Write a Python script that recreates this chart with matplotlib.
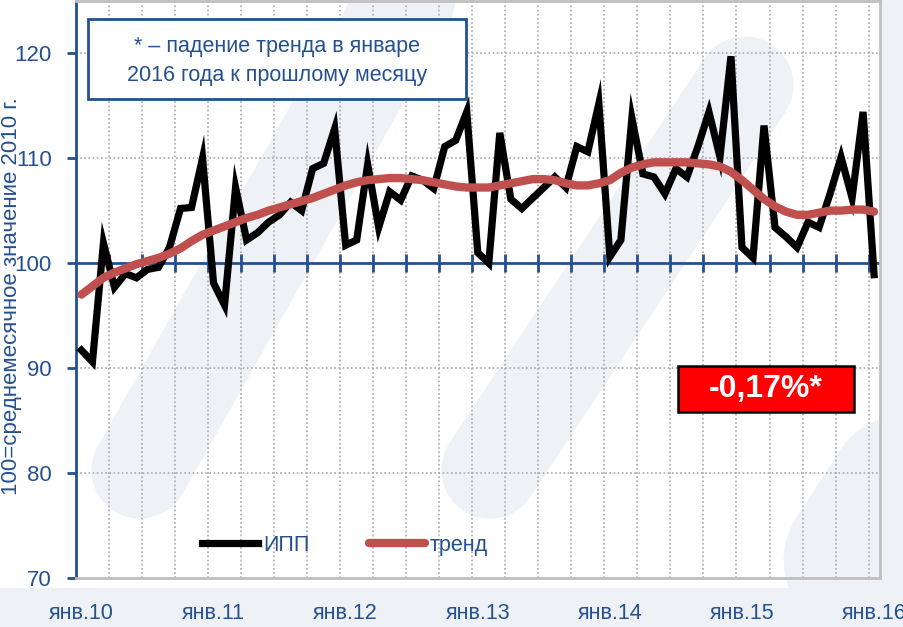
import numpy as np
import matplotlib.pyplot as plt
from matplotlib.patches import Rectangle
from matplotlib.lines import Line2D

# ИПП, 100 = среднемесячное значение 2010 г., янв.2010 - янв.2016
ipp = [91.7, 90.6, 101.9, 97.7, 99.0, 98.6, 99.4, 99.6, 101.5, 105.2, 105.3, 110.0,
       98.1, 96.0, 107.2, 102.2, 102.9, 103.9, 104.6, 105.8, 105.0, 109.0, 109.5, 112.8,
       101.7, 102.2, 109.4, 103.4, 106.8, 106.0, 108.3, 107.9, 107.1, 111.1, 111.7, 114.4,
       101.0, 100.0, 112.4, 106.1, 105.2, 106.2, 107.2, 108.2, 107.2, 111.1, 110.6, 115.2,
       100.6, 102.2, 113.8, 108.5, 108.2, 106.6, 109.0, 108.2, 111.1, 114.4, 110.1, 119.7,
       101.5, 100.5, 113.1, 103.4, 102.5, 101.5, 103.9, 103.4, 106.6, 110.1, 106.2, 114.4,
       98.9]
trend = [97.0, 97.8, 98.6, 99.1, 99.5, 99.9, 100.2, 100.5, 100.9, 101.4, 102.1, 102.7,
         103.1, 103.5, 103.9, 104.3, 104.6, 105.0, 105.3, 105.6, 105.9, 106.2, 106.6, 107.0,
         107.4, 107.7, 107.9, 108.0, 108.1, 108.1, 108.0, 107.9, 107.7, 107.5, 107.3, 107.2,
         107.2, 107.2, 107.4, 107.6, 107.8, 108.0, 108.0, 107.9, 107.6, 107.4, 107.4, 107.6,
         107.9, 108.6, 109.1, 109.4, 109.6, 109.6, 109.6, 109.6, 109.5, 109.4, 109.2, 108.7,
         107.9, 107.0, 106.1, 105.4, 104.9, 104.6, 104.6, 104.8, 105.0, 105.0, 105.1, 105.1,
         104.9]
year_labels = ['янв.10', 'янв.11', 'янв.12', 'янв.13', 'янв.14', 'янв.15', 'янв.16']
yticks = [70, 80, 90, 100, 110, 120]

blue = '#24508F'
wm = '#EEF1F6'   # watermark colour
plt.rcParams['font.family'] = ['Liberation Sans', 'DejaVu Sans']

fig = plt.figure(figsize=(9.04, 6.27), dpi=100)
W, H = 904.0, 627.0

# faint background logo (slanted bands)
fig.add_artist(Rectangle((0, 0), 1, 1 - 588 / H, transform=fig.transFigure,
                         color=wm, zorder=0))
fig.add_artist(Rectangle((882 / W, 0), 1, 1, transform=fig.transFigure, color=wm, zorder=0))
for (x0, y0), (x1, y1), w in [((140, 470), (440, -60), 70),
                              ((490, 470), (745, 85), 70),
                              ((860, 560), (1060, 250), 110)]:
    fig.add_artist(Line2D([x0 / W, x1 / W], [1 - y0 / H, 1 - y1 / H], transform=fig.transFigure,
                          color=wm, lw=w, solid_capstyle='round', zorder=0))

ax = fig.add_axes([0.084, 0.078, 0.889, 0.921])
ax.set_facecolor('none')

x = np.arange(len(ipp))
n = len(ipp)

# grid: quarterly boundaries
bounds = np.arange(2.5, n - 0.5, 3)
for b in bounds:
    ax.axvline(b, color='#A8A8A8', lw=1.2, ls=(0, (1, 1.5)), zorder=1)
for yv in [80, 90, 110, 120]:
    ax.axhline(yv, color='#A8A8A8', lw=1.2, ls=(0, (1, 1.5)), zorder=1)

# axis line at 100 with quarterly ticks
ax.axhline(100, color=blue, lw=2, zorder=2)
ax.plot(bounds, [100] * len(bounds), ls='none', marker='|', ms=13, mew=2, color=blue, zorder=2)

ax.plot(x, ipp, color='black', lw=5.2, solid_joinstyle='miter', label='ИПП', zorder=3)
ax.plot(x, trend, color='#C0504D', lw=6, solid_capstyle='round', label='тренд', zorder=4)

ax.set_xlim(-0.5, n - 0.5)
ax.set_ylim(70, 125)
ax.set_yticks(yticks)
ax.set_yticklabels([str(v) for v in yticks], fontsize=16, color=blue)
ax.set_xticks(x[::12])
ax.set_xticklabels(year_labels, fontsize=15.5, color=blue)
ax.tick_params(axis='x', length=0, pad=18)
ax.tick_params(axis='y', length=6.5, width=2, color=blue, pad=11)

ax.spines['left'].set_color(blue)
ax.spines['left'].set_linewidth(2)
for s in ['top', 'right', 'bottom']:
    ax.spines[s].set_color('#BFBFBF')
    ax.spines[s].set_linewidth(2)

fig.text(0.013, 0.528, '100=среднемесячное значение 2010 г.', rotation=90,
         va='center', ha='center', fontsize=16, color=blue)

# note box
ax.add_patch(Rectangle((0.015, 0.829), 0.470, 0.140, transform=ax.transAxes,
                       facecolor='white', edgecolor=blue, lw=2, zorder=5))
ax.text(0.25, 0.895, '* – падение тренда в январе\n2016 года к прошлому месяцу',
        transform=ax.transAxes, ha='center', va='center', fontsize=15.5,
        color=blue, linespacing=1.5, zorder=6)

# red label
ax.add_patch(Rectangle((0.749, 0.287), 0.219, 0.080, transform=ax.transAxes,
                       facecolor='#FF0000', edgecolor='black', lw=1.8, zorder=5))
ax.text(0.858, 0.327, '-0,17%*', transform=ax.transAxes, ha='center', va='center',
        fontsize=23, fontweight='bold', color='white', zorder=6)

leg = ax.legend(loc='center left', bbox_to_anchor=(0.157, 0.057), ncol=2, frameon=False,
                fontsize=15.5, handlelength=2.6, handletextpad=0.23, columnspacing=2.75,
                borderpad=0, borderaxespad=0)
for t in leg.get_texts():
    t.set_color(blue)

fig.savefig('out.png', dpi=100)
